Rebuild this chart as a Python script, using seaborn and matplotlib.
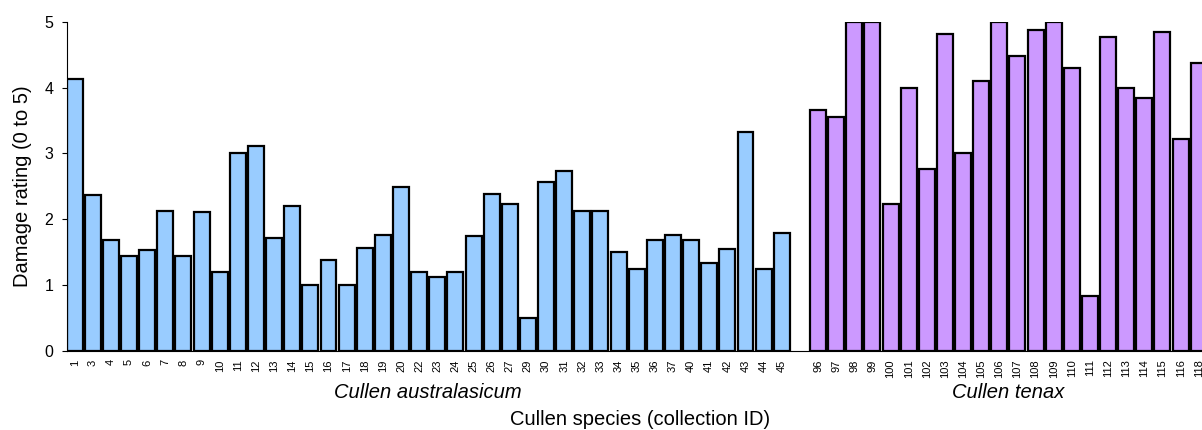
import pandas as pd
import seaborn as sns
import matplotlib.pyplot as plt
import matplotlib.transforms as mtransforms

# collection IDs and damage ratings
aus_ids = ['1', '3', '4', '5', '6', '7', '8', '9', '10', '11', '12', '13', '14', '15', '16', '17', '18', '19',
           '20', '22', '23', '24', '25', '26', '27', '29', '30', '31', '32', '33', '34', '35', '36', '37', '40',
           '41', '42', '43', '44', '45']
aus_vals = [4.13, 2.37, 1.68, 1.45, 1.54, 2.13, 1.45, 2.11, 1.20, 3.00, 3.12, 1.72, 2.20, 1.00, 1.38, 1.00,
            1.57, 1.76, 2.49, 1.20, 1.12, 1.20, 1.75, 2.38, 2.23, 0.50, 2.56, 2.74, 2.12, 2.13, 1.50, 1.24,
            1.68, 1.76, 1.68, 1.34, 1.55, 3.32, 1.24, 1.79]

ten_ids = ['96', '97', '98', '99', '100', '101', '102', '103', '104', '105', '106', '107', '108', '109', '110',
           '111', '112', '113', '114', '115', '116', '118']
ten_vals = [3.66, 3.56, 5.0, 5.0, 2.23, 4.0, 2.77, 4.81, 3.0, 4.10, 5.0, 4.48, 4.87, 5.0, 4.29, 0.84, 4.77,
            4.0, 3.84, 4.84, 3.22, 4.37]

species = ['Cullen australasicum', 'Cullen tenax']
colors = {'Cullen australasicum': '#99CCFF', 'Cullen tenax': '#CC99FF'}

df = pd.DataFrame({
    'id': aus_ids + ten_ids,
    'rating': aus_vals + ten_vals,
    'species': [species[0]] * len(aus_ids) + [species[1]] * len(ten_ids),
})

# empty slot between the two species
order = aus_ids + [''] + ten_ids

plt.rcParams['font.family'] = ['Liberation Sans', 'DejaVu Sans']

fig = plt.figure(figsize=(12.02, 4.30), dpi=100)
ax = fig.add_axes([66.7 / 1202, 79 / 430, (1202 - 66.7) / 1202, 329.3 / 430])

sns.barplot(data=df, x='id', y='rating', hue='species', order=order, palette=colors, saturation=1,
            dodge=False, width=0.88, edgecolor='black', linewidth=1.6, legend=False, ax=ax)

ax.set_ylim(0, 5)
ax.set_xlim(-0.44, 62.18)
ax.set_yticks([0, 1, 2, 3, 4, 5])
ax.tick_params(axis='y', labelsize=11.5, length=3.6, width=0.8, pad=6)
ax.tick_params(axis='x', labelsize=8, length=0, pad=6, rotation=90)
for s in ['top', 'right']:
    ax.spines[s].set_visible(False)
ax.spines['left'].set_linewidth(0.8)
ax.spines['bottom'].set_linewidth(0.8)

ax.set_ylabel('Damage rating (0 to 5)', fontsize=14.5)
ax.yaxis.set_label_coords(-0.031, 0.5)
ax.set_xlabel('Cullen species (collection ID)', fontsize=14.5, va='top')
ax.xaxis.set_label_coords(0.505, -0.178)

# species group labels under the tick labels
trans = mtransforms.blended_transform_factory(ax.transData, ax.transAxes)
ax.text(19.5, -0.125, species[0], transform=trans, ha='center', va='center', fontsize=14.5, style='italic')
ax.text(51.5, -0.125, species[1], transform=trans, ha='center', va='center', fontsize=14.5, style='italic')

plt.savefig('out.png', dpi=100)
